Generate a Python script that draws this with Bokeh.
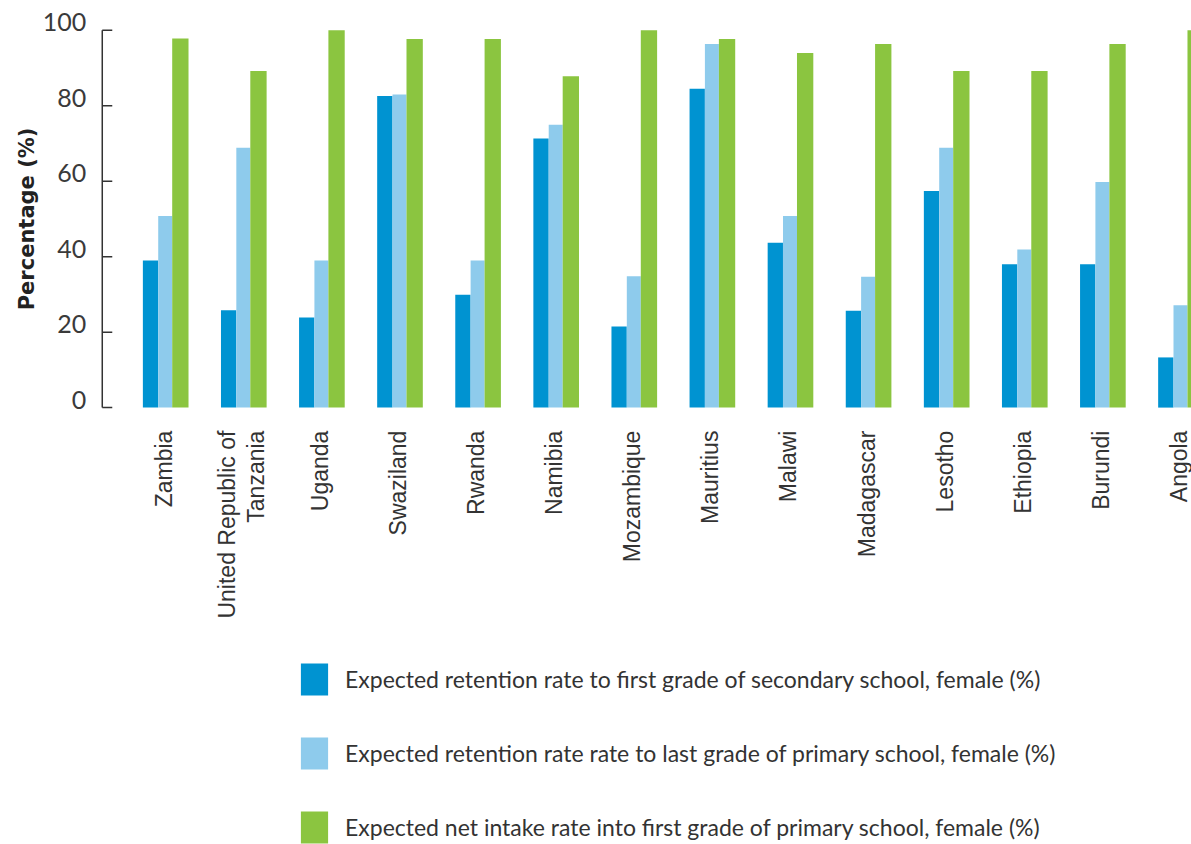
import math

from bokeh.core.properties import value
from bokeh.embed import file_html
from bokeh.models import Range1d
from bokeh.plotting import figure
from bokeh.resources import INLINE

# Countries, in the order they appear along the x axis
countries = [
    "Zambia", "United Republic of\nTanzania", "Uganda", "Swaziland", "Rwanda",
    "Namibia", "Mozambique", "Mauritius", "Malawi", "Madagascar", "Lesotho",
    "Ethiopia", "Burundi", "Angola",
]

# Expected retention rate to first grade of secondary school, female (%)
secondary_retention = [39.0, 25.8, 23.9, 82.6, 29.9, 71.3, 21.5, 84.5, 43.7, 25.7, 57.4, 38.0, 38.0, 13.3]
# Expected retention rate to last grade of primary school, female (%)
primary_retention = [50.8, 68.9, 39.0, 83.0, 39.0, 75.0, 34.8, 96.4, 50.8, 34.7, 68.9, 41.9, 59.8, 27.1]
# Expected net intake rate into first grade of primary school, female (%)
primary_intake = [97.8, 89.2, 100.0, 97.7, 97.7, 87.8, 100.0, 97.7, 94.0, 96.4, 89.2, 89.2, 96.4, 100.0]

series_labels = [
    "Expected retention rate to first grade of secondary school, female (%)",
    "Expected retention rate rate to last grade of primary school, female (%)",
    "Expected net intake rate into first grade of primary school, female (%)",
]
series_colors = ["#0093D1", "#8ECBEC", "#8BC540"]
y_ticks = [0, 20, 40, 60, 80, 100]
y_title = "Percentage (%)"

# One slot per country; bars are dodged within each slot
slot = list(range(len(countries)))
bar_offsets = [-0.194, -0.006, 0.188]
bar_widths = [0.196, 0.179, 0.209]

# The frame covers the whole page: the value axis, the country names and
# the legend are all drawn inside it.
x_lo, x_hi = -2.115, 13.135
y_lo, y_hi = -115.8, 107.9
axis_x = -0.812          # where the value axis stands, in slot units
axis_color = "#333333"

p = figure(
    width=1191, height=844,
    x_range=Range1d(x_lo, x_hi),
    y_range=Range1d(y_lo, y_hi),
    x_axis_location=None, y_axis_location=None,
    output_backend="svg", toolbar_location=None,
    min_border=0,
)
p.outline_line_color = None
p.grid.visible = False
p.background_fill_color = "white"
p.border_fill_color = "white"

values = [secondary_retention, primary_retention, primary_intake]
for vals, off, w, col, lab in zip(values, bar_offsets, bar_widths, series_colors, series_labels):
    xs = [i + off for i in slot]
    p.vbar(x=xs, top=vals, bottom=0, width=w, fill_color=col, line_color=None,
           legend_label=lab)

# Value axis: rule, inward ticks, numbers resting on their ticks, title
p.segment(x0=[axis_x], y0=[y_ticks[0]], x1=[axis_x], y1=[y_ticks[-1]],
          line_color=axis_color, line_width=1.5)
p.ray(x=[axis_x] * len(y_ticks), y=y_ticks, length=10, length_units="screen",
      angle=0, line_color=axis_color, line_width=1.5)
p.text(x=[axis_x] * len(y_ticks), y=y_ticks, text=[str(t) for t in y_ticks],
       x_offset=-16, y_offset=-8, text_align="right", text_baseline="middle",
       text_font=value("Lato"), text_font_size="25px", text_color="#3a3a3a")
p.text(x=[axis_x], y=[(y_ticks[0] + y_ticks[-1]) / 2], text=[y_title],
       angle=math.pi / 2, x_offset=-75, text_align="center", text_baseline="middle",
       text_font=value("DejaVu Sans"), text_font_style="bold",
       text_font_size="21px", text_color="#222222")

# Country names under each group, reading upwards
p.text(x=slot, y=[y_ticks[0]] * len(slot), text=countries, angle=math.pi / 2,
       x_offset=-2, y_offset=23, text_align="right", text_baseline="middle",
       text_font=value("Liberation Sans"), text_font_size="23px",
       text_line_height=1.1, text_color="#333333")

# Legend below the country names
leg = p.legend[0]
leg.location = (297, -3)
leg.orientation = "vertical"
leg.padding = 0
leg.margin = 0
leg.spacing = 34
leg.glyph_width = 34
leg.glyph_height = 40
leg.label_height = 40
leg.label_standoff = 14
leg.label_text_font = "Lato"
leg.label_text_font_size = "23px"
leg.label_text_color = "#333333"
leg.border_line_color = None
leg.background_fill_alpha = 0

open("out.html", "w").write(file_html(p, INLINE))
